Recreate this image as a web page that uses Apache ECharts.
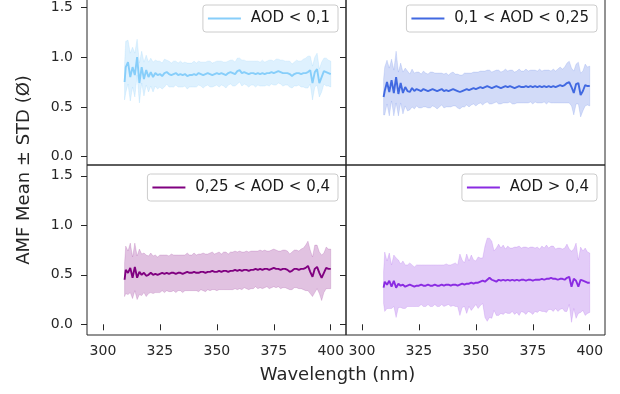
<!DOCTYPE html>
<html><head><meta charset="utf-8">
<script src="https://cdn.jsdelivr.net/npm/echarts@6/dist/echarts.min.js"></script>
<style>html,body{margin:0;padding:0;background:#fff}#c{width:620px;height:394px}</style>
</head><body><div id="c"></div><script>
// Wavelength samples (nm)
const wavelength = [309.5,310,311,312,313,314,315,316,317,318,319,320,321,322,323,324,325,326,327,328,329,330,
331,332,333,334,335,336,337,338,339,340,341,342,343,344,345,346,347,348,349,350,351,352,353,354,355,356,357,358,
359,360,361,362,363,364,365,366,367,368,369,370,371,372,373,374,375,376,377,378,379,380,381,382,383,384,385,386,387,388,389,390,391,392,393,394,395,396,397,398,399,400];

const labels = ['AOD < 0,1', '0,1 < AOD < 0,25', '0,25 < AOD < 0,4', 'AOD > 0,4'];
const xTicks = [300, 325, 350, 375, 400];
const yTicks = [0, 0.5, 1.0, 1.5];

// AMF mean per AOD class
const meanAOD1 = [0.75,0.90,0.95,0.80,0.90,0.82,1.00,0.74,0.90,0.78,0.87,0.80,0.85,0.80,0.84,0.82,0.83,0.81,0.84,0.85,0.83,0.82,
0.83,0.84,0.82,0.83,0.82,0.83,0.81,0.82,0.82,0.83,0.82,0.84,0.83,0.82,0.83,0.84,0.83,0.82,0.83,0.84,0.83,0.84,0.83,0.82,0.84,0.85,0.84,0.83,
0.86,0.87,0.84,0.85,0.84,0.83,0.84,0.84,0.83,0.84,0.83,0.84,0.83,0.84,0.84,0.85,0.84,0.85,0.86,0.85,0.84,0.84,0.84,0.83,0.81,0.83,0.84,0.84,0.83,0.84,0.84,0.85,0.87,0.74,0.85,0.88,0.74,0.80,0.86,0.85,0.84,0.83];
const stdAOD1 = [0.18,0.26,0.22,0.24,0.20,0.22,0.18,0.20,0.16,0.17,0.15,0.15,0.14,0.15,0.13,0.14,0.13,0.13,0.14,0.12,0.13,0.12,
0.13,0.12,0.12,0.13,0.12,0.12,0.13,0.12,0.12,0.13,0.12,0.12,0.12,0.13,0.12,0.12,0.13,0.12,0.12,0.12,0.13,0.12,0.12,0.13,0.12,0.12,0.13,0.12,
0.13,0.12,0.13,0.12,0.12,0.13,0.12,0.12,0.13,0.12,0.12,0.13,0.12,0.12,0.13,0.12,0.12,0.13,0.12,0.12,0.13,0.12,0.12,0.13,0.12,0.12,0.13,0.12,0.13,0.14,0.15,0.16,0.14,0.17,0.15,0.16,0.14,0.15,0.13,0.14,0.13,0.13];

const meanAOD2 = [0.60,0.66,0.75,0.65,0.77,0.64,0.80,0.63,0.74,0.64,0.70,0.66,0.65,0.69,0.66,0.68,0.67,0.66,0.68,0.67,0.66,0.67,
0.68,0.67,0.66,0.67,0.68,0.66,0.67,0.66,0.67,0.68,0.67,0.66,0.65,0.66,0.67,0.68,0.67,0.68,0.69,0.68,0.69,0.70,0.69,0.70,0.71,0.70,0.69,0.70,
0.71,0.70,0.69,0.70,0.71,0.70,0.71,0.70,0.69,0.70,0.71,0.70,0.70,0.71,0.70,0.71,0.70,0.71,0.70,0.71,0.70,0.71,0.70,0.71,0.70,0.71,0.70,0.71,0.72,0.71,0.72,0.74,0.75,0.70,0.64,0.73,0.74,0.62,0.66,0.72,0.71,0.71];
const stdAOD2 = [0.18,0.24,0.22,0.24,0.21,0.23,0.26,0.22,0.20,0.21,0.19,0.20,0.18,0.19,0.18,0.17,0.18,0.17,0.18,0.17,0.17,0.18,
0.17,0.17,0.18,0.17,0.16,0.17,0.17,0.16,0.17,0.17,0.16,0.17,0.17,0.16,0.17,0.16,0.17,0.16,0.16,0.17,0.16,0.16,0.17,0.16,0.16,0.17,0.16,0.16,
0.16,0.17,0.16,0.16,0.17,0.16,0.16,0.17,0.16,0.16,0.17,0.16,0.16,0.17,0.16,0.16,0.17,0.16,0.16,0.17,0.16,0.16,0.17,0.16,0.16,0.17,0.16,0.17,0.18,0.17,0.18,0.20,0.21,0.19,0.22,0.20,0.21,0.22,0.20,0.21,0.19,0.20];

const meanAOD3 = [0.45,0.55,0.52,0.57,0.47,0.58,0.47,0.53,0.50,0.52,0.49,0.50,0.52,0.50,0.51,0.50,0.51,0.52,0.51,0.52,0.51,0.52,
0.52,0.51,0.52,0.52,0.51,0.52,0.53,0.52,0.52,0.53,0.52,0.52,0.53,0.53,0.52,0.53,0.53,0.54,0.53,0.53,0.54,0.53,0.54,0.54,0.53,0.54,0.54,0.55,
0.54,0.55,0.54,0.55,0.55,0.54,0.55,0.55,0.56,0.55,0.56,0.55,0.56,0.56,0.55,0.56,0.57,0.56,0.56,0.55,0.56,0.56,0.55,0.53,0.54,0.56,0.56,0.55,0.56,0.56,0.57,0.59,0.53,0.48,0.56,0.58,0.52,0.47,0.52,0.57,0.56,0.56];
const stdAOD3 = [0.17,0.24,0.22,0.25,0.21,0.24,0.22,0.23,0.21,0.20,0.21,0.19,0.20,0.19,0.19,0.18,0.19,0.18,0.19,0.18,0.18,0.19,
0.18,0.19,0.18,0.18,0.19,0.18,0.19,0.18,0.18,0.19,0.18,0.19,0.18,0.19,0.19,0.18,0.19,0.19,0.18,0.19,0.19,0.18,0.19,0.19,0.18,0.19,0.19,0.19,
0.19,0.19,0.19,0.18,0.19,0.19,0.19,0.19,0.18,0.19,0.19,0.19,0.19,0.18,0.19,0.19,0.19,0.19,0.18,0.19,0.19,0.19,0.19,0.18,0.19,0.19,0.19,0.19,0.20,0.21,0.23,0.25,0.22,0.20,0.24,0.22,0.21,0.23,0.20,0.21,0.20,0.20];

const meanAOD4 = [0.37,0.43,0.40,0.44,0.38,0.44,0.37,0.41,0.39,0.40,0.38,0.39,0.40,0.39,0.38,0.39,0.39,0.40,0.39,0.39,0.40,0.39,
0.39,0.40,0.39,0.39,0.40,0.39,0.40,0.40,0.39,0.40,0.40,0.39,0.40,0.41,0.40,0.41,0.41,0.42,0.41,0.42,0.42,0.43,0.44,0.43,0.45,0.47,0.45,0.44,
0.43,0.45,0.44,0.45,0.44,0.45,0.44,0.45,0.44,0.45,0.44,0.45,0.45,0.44,0.45,0.45,0.44,0.45,0.45,0.45,0.46,0.45,0.46,0.46,0.47,0.46,0.46,0.45,0.46,0.46,0.45,0.47,0.48,0.38,0.46,0.44,0.38,0.45,0.44,0.43,0.42,0.42];
const stdAOD4 = [0.16,0.30,0.24,0.28,0.22,0.26,0.30,0.24,0.22,0.24,0.22,0.21,0.22,0.21,0.20,0.21,0.21,0.20,0.21,0.21,0.20,0.21,
0.21,0.20,0.21,0.21,0.20,0.21,0.21,0.20,0.21,0.21,0.22,0.21,0.31,0.24,0.22,0.30,0.23,0.28,0.24,0.22,0.26,0.24,0.23,0.36,0.42,0.40,0.39,0.30,
0.34,0.36,0.33,0.35,0.32,0.34,0.33,0.32,0.34,0.33,0.35,0.32,0.33,0.34,0.32,0.33,0.34,0.32,0.33,0.31,0.33,0.32,0.34,0.31,0.32,0.33,0.30,0.32,0.31,0.30,0.32,0.34,0.28,0.36,0.30,0.38,0.27,0.33,0.30,0.34,0.31,0.30];

const FONT = 'DejaVu Sans';
const TXT = '#262626';
const panels = [
  {label: labels[0], color: '#87CEFA', fill: 'rgba(135,206,250,0.28)', edge: 'rgba(135,206,250,0.2)', mean: meanAOD1, std: stdAOD1, col: 0, row: 0},
  {label: labels[1], color: '#4169E1', fill: 'rgba(65,105,225,0.24)', edge: 'rgba(65,105,225,0.15)', mean: meanAOD2, std: stdAOD2, col: 1, row: 0},
  {label: labels[2], color: '#800080', fill: 'rgba(128,0,128,0.24)', edge: 'rgba(128,0,128,0.15)', mean: meanAOD3, std: stdAOD3, col: 0, row: 1},
  {label: labels[3], color: '#8A2BE2', fill: 'rgba(138,43,226,0.24)', edge: 'rgba(138,43,226,0.15)', mean: meanAOD4, std: stdAOD4, col: 1, row: 1}
];

const grids = [], xAxes = [], yAxes = [], series = [], legends = [];
panels.forEach((p, i) => {
  grids.push({
    left: p.col ? 346 : 87, width: 259,
    top: p.row ? 165 : -3, height: p.row ? 170 : 168,
    show: true, borderColor: TXT, borderWidth: 1, backgroundColor: 'transparent',
    containLabel: false, outerBoundsMode: 'none'
  });
  xAxes.push({
    type: 'value', gridIndex: i, min: 293, max: 406.7,
    splitLine: {show: false},
    axisLine: {show: false},
    axisTick: {show: p.row === 1, length: 6, lineStyle: {color: TXT}, customValues: xTicks},
    axisLabel: {show: p.row === 1, customValues: xTicks, margin: 9,
      fontFamily: FONT, fontSize: 14, color: TXT, formatter: v => String(v)}
  });
  yAxes.push({
    type: 'value', gridIndex: i,
    min: p.row ? -0.108 : -0.083, max: p.row ? 1.609 : 1.604,
    splitLine: {show: false},
    axisLine: {show: false},
    axisTick: {show: true, length: 6, lineStyle: {color: TXT}, customValues: yTicks},
    axisLabel: {show: p.col === 0, customValues: yTicks, margin: 14,
      fontFamily: FONT, fontSize: 14, color: TXT, padding: [3, 0, 0, 0], formatter: v => v.toFixed(1)}
  });
  const bandData = wavelength.map((w, k) => [w, p.mean[k] - p.std[k], p.mean[k] + p.std[k]]);
  series.push({
    type: 'custom', name: p.label + ' ± STD', xAxisIndex: i, yAxisIndex: i,
    data: bandData, encode: {x: 0, y: [1, 2]}, silent: true, z: 1,
    renderItem: (params, api) => {
      if (params.dataIndex !== 0) return null;
      const pts = [];
      bandData.forEach(d => pts.push(api.coord([d[0], d[2]])));
      for (let k = bandData.length - 1; k >= 0; k--) pts.push(api.coord([bandData[k][0], bandData[k][1]]));
      return {type: 'polygon', shape: {points: pts},
        style: {fill: p.fill, stroke: p.edge, lineWidth: 1}};
    }
  });
  series.push({
    type: 'line', name: p.label, xAxisIndex: i, yAxisIndex: i,
    data: wavelength.map((w, k) => [w, p.mean[k]]),
    symbol: 'none', showSymbol: false, z: 3,
    lineStyle: {color: p.color, width: 1.9}, itemStyle: {color: p.color}
  });
  legends.push({
    data: [{name: p.label, icon: 'rect'}],
    right: p.col ? 23 : 282, top: p.row ? 174 : 5,
    itemWidth: 33, itemHeight: 2, selectedMode: false,
    formatter: n => ' ' + n,
    textStyle: {fontFamily: FONT, fontSize: 15, color: '#1a1a1a'},
    backgroundColor: 'rgba(255,255,255,0.8)', borderColor: '#cccccc', borderWidth: 1, borderRadius: 3,
    padding: [6, 8, 6, 5]
  });
});

const chart = echarts.init(document.getElementById('c'), null, {renderer: 'canvas'});
chart.setOption({
  animation: false,
  backgroundColor: '#ffffff',
  grid: grids, xAxis: xAxes, yAxis: yAxes, series: series, legend: legends,
  graphic: [
    {type: 'text', x: 24, y: 170, rotation: Math.PI / 2,
      style: {text: 'AMF Mean ± STD (Ø)', font: '18px "DejaVu Sans"', fill: TXT, align: 'center', verticalAlign: 'middle'}},
    {type: 'text', x: 337.5, y: 375,
      style: {text: 'Wavelength (nm)', font: '18px "DejaVu Sans"', fill: TXT, align: 'center', verticalAlign: 'middle'}}
  ]
});
</script></body></html>
